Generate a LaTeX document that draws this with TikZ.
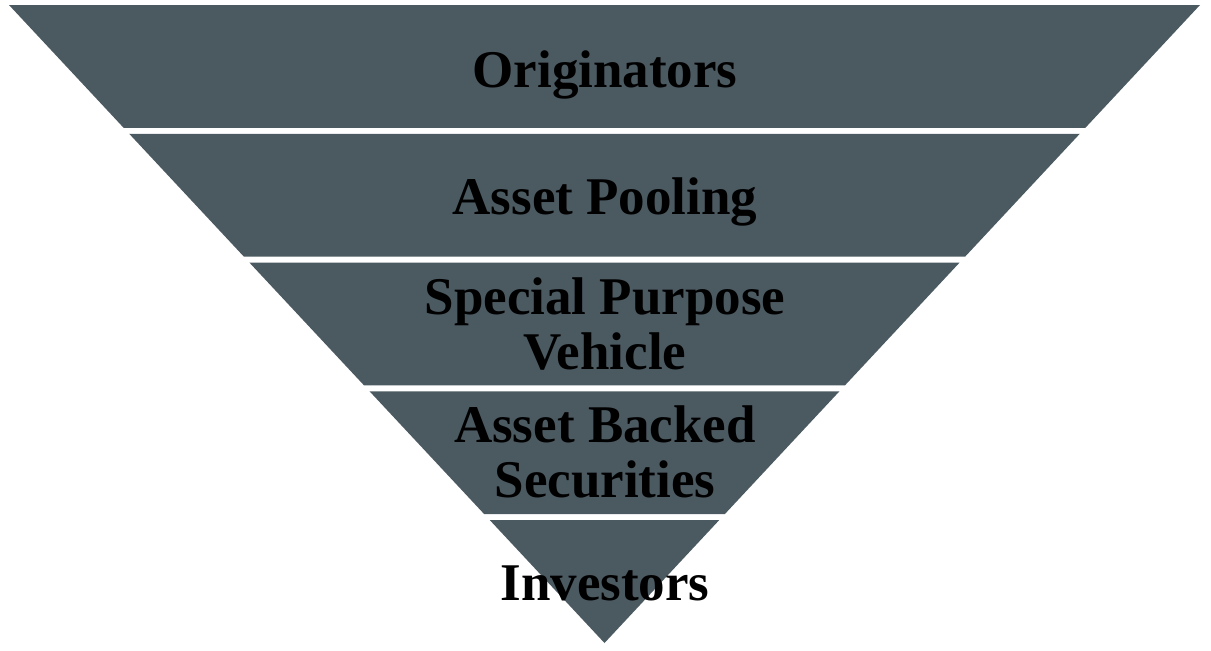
\documentclass[tikz,border=0pt]{standalone}
\usepackage{fontspec}
\setmainfont{Liberation Serif}
\definecolor{bandgrey}{HTML}{4B5961}
\begin{document}
\begin{tikzpicture}[x=1pt,y=-1pt,
  bandfill/.style={fill=bandgrey},
  bandtext/.style={font=\fontsize{53}{55}\selectfont\bfseries, text=black, align=center, inner sep=0pt}]
\useasboundingbox (0,0) rectangle (1211,651);
% inverted funnel split into five bands separated by white gaps
\foreach \t/\b in {5/127.8, 133.8/256.6, 262.6/385.4, 391.4/514.2, 520.2/643} {
  \pgfmathsetmacro\lt{9+(\t-5)/638*595.5}
  \pgfmathsetmacro\rt{1200-(\t-5)/638*595.5}
  \pgfmathsetmacro\lb{9+(\b-5)/638*595.5}
  \pgfmathsetmacro\rb{1200-(\b-5)/638*595.5}
  \fill[bandfill] (\lt,\t) -- (\rt,\t) -- (\rb,\b) -- (\lb,\b) -- cycle;
}
\node[bandtext, anchor=base] (originators) at (605,87) {Originators};
\node[bandtext, anchor=base] (pooling) at (605,214) {Asset Pooling};
\node[bandtext] (spv) at (605,324) {Special Purpose\\Vehicle};
\node[bandtext] (abs) at (605,452) {Asset Backed\\Securities};
\node[bandtext, anchor=base] (investors) at (605,600) {Investors};
\end{tikzpicture}
\end{document}
